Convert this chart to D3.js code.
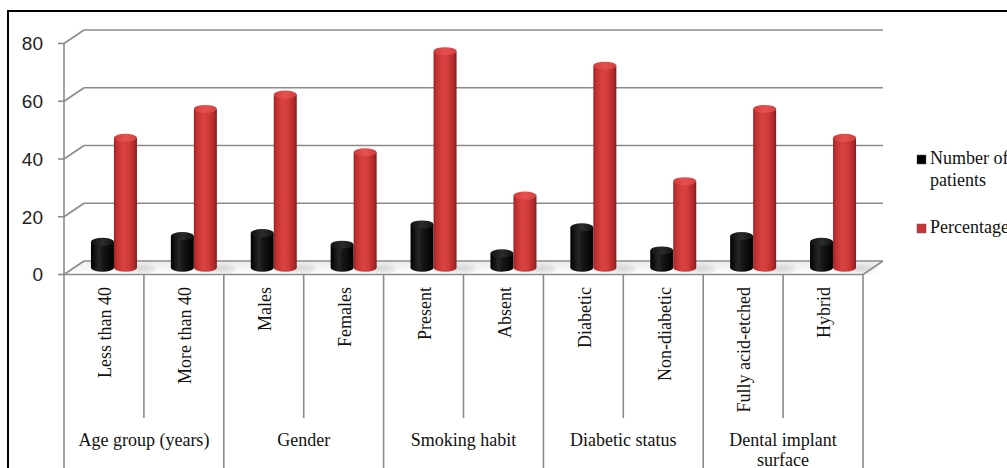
<!DOCTYPE html>
<html>
<head>
<meta charset="utf-8">
<script src="https://cdn.jsdelivr.net/npm/d3@7"></script>
<style>
  html, body { margin: 0; padding: 0; background: #fff; }
  svg { display: block; }
  .serif { font-family: "Liberation Serif", "Times New Roman", "DejaVu Serif", serif; }
</style>
</head>
<body>
<svg id="chart" width="1007" height="468"></svg>
<script>
// ---- data ----
const categories = ["Less than 40", "More than 40", "Males", "Females", "Present", "Absent", "Diabetic", "Non-diabetic", "Fully acid-etched", "Hybrid"];
const groups = ["Age group (years)", "Gender", "Smoking habit", "Diabetic status", "Dental implant surface"];
const seriesNames = ["Number of patients", "Percentage"];
const numberOfPatients = [9, 11, 12, 8, 15, 5, 14, 6, 11, 9];
const percentage = [45, 55, 60, 40, 75, 25, 70, 30, 55, 45];
const yTicks = [0, 20, 40, 60, 80];

// ---- layout ----
const svg = d3.select("#chart");
const W = 1007, H = 468;
const left = 64, right = 863;
const dx = 20, dy = -13.5;
const y = d3.scaleLinear().domain([0, 80]).range([274.5, 43.5]);
const x = d3.scaleBand().domain(categories).range([left, right]);
const bw = x.bandwidth();
const barW = 23;
const xInner = d3.scaleBand().domain(seriesNames).range([0, barW * 2]);
const gridColor = "#8b8b8b";
const fs = 18;

svg.append("rect").attr("width", W).attr("height", H).attr("fill", "#fff");

const defs = svg.append("defs");
function hGrad(id, stops) {
  const g = defs.append("linearGradient").attr("id", id).attr("x1", "0%").attr("x2", "100%").attr("y1", "0%").attr("y2", "0%");
  stops.forEach(s => g.append("stop").attr("offset", s[0]).attr("stop-color", s[1]));
}
hGrad("redBody", [["0%", "#9e2222"], ["12%", "#c03131"], ["40%", "#d94242"], ["65%", "#cf3a3a"], ["88%", "#b02828"], ["100%", "#861b1b"]]);
hGrad("blackBody", [["0%", "#000"], ["35%", "#262626"], ["55%", "#151515"], ["100%", "#000"]]);
hGrad("redTop", [["0%", "#cf3b3b"], ["50%", "#e65050"], ["100%", "#d14040"]]);
hGrad("blackTop", [["0%", "#111"], ["50%", "#2c2c2c"], ["100%", "#111"]]);
const floorG = defs.append("linearGradient").attr("id", "floorGrad").attr("x1", "0").attr("x2", "0").attr("y1", "0").attr("y2", "1");
floorG.append("stop").attr("offset", "0%").attr("stop-color", "#ececec");
floorG.append("stop").attr("offset", "100%").attr("stop-color", "#ffffff");
const blur = defs.append("filter").attr("id", "blur").attr("x", "-50%").attr("y", "-50%").attr("width", "200%").attr("height", "200%");
blur.append("feGaussianBlur").attr("stdDeviation", 2.5);

// outer frame
svg.append("rect").attr("x", 8).attr("y", 11).attr("width", 1100).attr("height", 600)
  .attr("fill", "none").attr("stroke", "#000").attr("stroke-width", 2);

// floor
const y0 = y(0);
svg.append("polygon")
  .attr("points", [[left, y0], [right, y0], [right + dx, y0 + dy], [left + dx, y0 + dy]].map(p => p.join(",")).join(" "))
  .attr("fill", "url(#floorGrad)");

// back-wall gridlines and left wall diagonals
const grid = svg.append("g").attr("stroke", gridColor).attr("stroke-width", 1.6).attr("fill", "none");
yTicks.forEach(t => {
  grid.append("line").attr("x1", left + dx).attr("x2", right + dx).attr("y1", y(t) + dy).attr("y2", y(t) + dy);
  grid.append("line").attr("x1", left).attr("x2", left + dx).attr("y1", y(t)).attr("y2", y(t) + dy);
  grid.append("line").attr("x1", left - 6).attr("x2", left).attr("y1", y(t)).attr("y2", y(t));
});
grid.append("line").attr("x1", left).attr("x2", left).attr("y1", y(80)).attr("y2", y(0));
grid.append("line").attr("x1", left).attr("x2", right).attr("y1", y0).attr("y2", y0);
grid.append("line").attr("x1", right).attr("x2", right + dx).attr("y1", y0).attr("y2", y0 + dy);

// y tick labels
svg.append("g").selectAll("text").data(yTicks).join("text")
  .attr("x", 43).attr("y", d => y(d)).attr("dy", "0.36em")
  .attr("text-anchor", "end")
  .style("font-family", "'Liberation Sans', Arial, sans-serif").attr("font-size", 19).attr("fill", "#222")
  .text(d => d);

// bars (cylinders)
const ry = 4;
const series = [
  { name: seriesNames[0], values: numberOfPatients, body: "url(#blackBody)", top: "url(#blackTop)" },
  { name: seriesNames[1], values: percentage, body: "url(#redBody)", top: "url(#redTop)" }
];
const barsG = svg.append("g");
categories.forEach((c, i) => {
  const bx = x(c) + bw / 2 + dx / 2 - barW + xInner(seriesNames[1]) + barW;
  barsG.append("ellipse").attr("cx", bx + 5).attr("cy", y0 + dy / 2 + 1).attr("rx", 14).attr("ry", 3)
    .attr("fill", "#a0a0a0").attr("opacity", 0.45).attr("filter", "url(#blur)");
});
categories.forEach((c, i) => {
  series.forEach(s => {
    const bx = x(c) + bw / 2 + dx / 2 - barW + xInner(s.name);
    const cx = bx + barW / 2;
    const base = y(0) + dy / 2;
    const top = y(s.values[i]) + dy / 2;
    const g = barsG.append("g");
    g.append("ellipse").attr("cx", cx).attr("cy", base).attr("rx", barW / 2).attr("ry", ry).attr("fill", s.body);
    g.append("rect").attr("x", bx).attr("y", top).attr("width", barW).attr("height", base - top).attr("fill", s.body);
    g.append("ellipse").attr("cx", cx).attr("cy", top).attr("rx", barW / 2).attr("ry", ry).attr("fill", s.top);
  });
});

// category separators
const sep = svg.append("g").attr("stroke", gridColor).attr("stroke-width", 1.6);
for (let i = 0; i <= categories.length; i++) {
  const xx = i < categories.length ? x(categories[i]) : right;
  sep.append("line").attr("x1", xx).attr("x2", xx).attr("y1", y0).attr("y2", i % 2 === 0 ? 470 : 418);
}

// category labels (rotated)
svg.append("g").attr("class", "serif").selectAll("text").data(categories).join("text")
  .attr("transform", d => `translate(${x(d) + bw / 2 + 1},287) rotate(-90)`)
  .attr("dy", "0.35em")
  .attr("text-anchor", "end")
  .attr("font-size", fs).attr("fill", "#111")
  .text(d => d);

// group labels
const gl = svg.append("g").attr("class", "serif").attr("font-size", fs).attr("fill", "#111").attr("text-anchor", "middle");
groups.forEach((g, k) => {
  const gx = x(categories[2 * k]) + bw;
  const t = gl.append("text").attr("x", gx).attr("y", 446);
  if (g === "Dental implant surface") {
    t.append("tspan").attr("x", gx).attr("y", 446).text("Dental implant");
    t.append("tspan").attr("x", gx).attr("y", 466).text("surface");
  } else {
    t.text(g);
  }
});

// legend
const lg = svg.append("g").attr("class", "serif").attr("font-size", fs).attr("fill", "#111");
const legendItems = [
  { name: seriesNames[0], color: "#000", y: 155, lines: ["Number of", "patients"] },
  { name: seriesNames[1], color: "#cc3535", y: 224, lines: ["Percentage"] }
];
legendItems.forEach(it => {
  lg.append("rect").attr("x", 917).attr("y", it.y).attr("width", 9).attr("height", 9).attr("fill", it.color)
    .attr("stroke", "#555").attr("stroke-width", 0.5);
  const t = lg.append("text");
  it.lines.forEach((ln, j) => {
    t.append("tspan").attr("x", 930).attr("y", it.y + 9 + j * 22).text(ln);
  });
});
</script>
</body>
</html>
